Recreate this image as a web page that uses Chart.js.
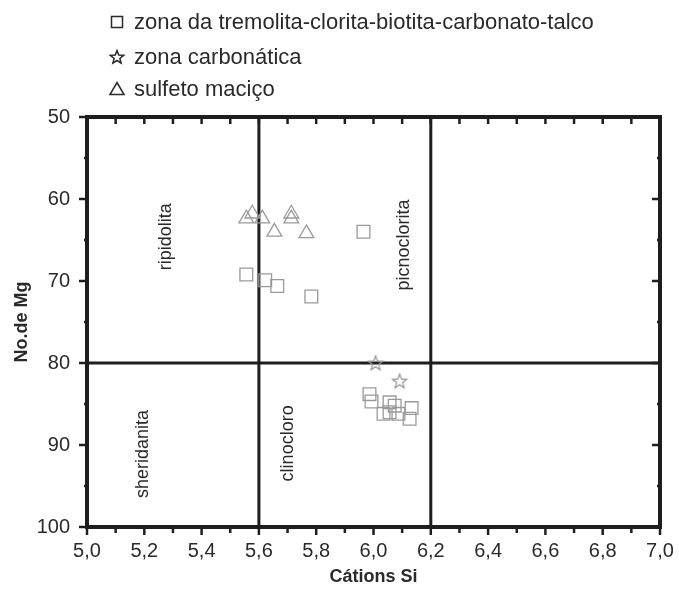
<!DOCTYPE html>
<html>
<head>
<meta charset="utf-8">
<script src="https://cdn.jsdelivr.net/npm/chart.js@4.4.0/dist/chart.umd.min.js"></script>
<style>
  html, body { margin: 0; padding: 0; background: #fff; }
</style>
</head>
<body>
<canvas id="chart" width="679" height="590"></canvas>
<script>
// values
var squareX = [5.965, 5.556, 5.622, 5.664, 5.783, 5.986, 5.993, 6.056, 6.074, 6.035, 6.056, 6.087, 6.133, 6.126];
var squareY = [64.0, 69.2, 69.9, 70.6, 71.9, 83.8, 84.7, 84.8, 85.2, 86.2, 86.0, 86.2, 85.5, 86.8];
var starX = [6.007, 6.091];
var starY = [80.0, 82.2];
var triX = [5.556, 5.577, 5.612, 5.654, 5.713, 5.713, 5.766];
var triY = [62.4, 61.8, 62.4, 64.0, 61.8, 62.4, 64.2];

var seriesNames = ["zona da tremolita-clorita-biotita-carbonato-talco", "zona carbonática", "sulfeto maciço"];
var seriesShapes = ["rect", "star", "triangle"];

// field boundaries
var boundX = [5.6, 6.2];
var boundY = [80];

var regionNames = ["ripidolita", "picnoclorita", "sheridanita", "clinocloro"];
var regionX = [5.276, 6.105, 5.196, 5.70];
var regionY = [64.6, 65.6, 91.1, 89.8];

var FONT = '"Liberation Sans", Arial, sans-serif';
var pointGray = "#9a9a9a";

function toPoints(xs, ys) {
  var pts = [];
  for (var i = 0; i < xs.length; i++) pts.push({x: xs[i], y: ys[i]});
  return pts;
}

function starPath(ctx, cx, cy, outer, inner) {
  ctx.beginPath();
  for (var i = 0; i < 10; i++) {
    var r = (i % 2 === 0) ? outer : inner;
    var a = -Math.PI / 2 + i * Math.PI / 5;
    var px = cx + r * Math.cos(a), py = cy + r * Math.sin(a);
    if (i === 0) ctx.moveTo(px, py); else ctx.lineTo(px, py);
  }
  ctx.closePath();
}

// star marker as an image, chart.js "star" is an asterisk
var starImg = document.createElement("canvas");
starImg.width = 18; starImg.height = 18;
(function() {
  var c = starImg.getContext("2d");
  c.strokeStyle = pointGray;
  c.lineWidth = 1.3;
  starPath(c, 9, 9.6, 7.5, 3.2);
  c.stroke();
})();

function drawShape(ctx, shape, x, y) {
  ctx.beginPath();
  if (shape === "rect") {
    ctx.rect(x - 5.5, y - 5.5, 11, 11);
  } else if (shape === "triangle") {
    ctx.moveTo(x, y - 6.5);
    ctx.lineTo(x + 7, y + 5.5);
    ctx.lineTo(x - 7, y + 5.5);
    ctx.closePath();
  } else {
    starPath(ctx, x, y + 0.5, 7, 3);
  }
  ctx.stroke();
}

var framePlugin = {
  id: "frame",
  beforeDatasetsDraw: function(chart) {
    var ctx = chart.ctx, a = chart.chartArea;
    var xs = chart.scales.x, ys = chart.scales.y;
    ctx.save();
    ctx.strokeStyle = "#1e1e1e";
    ctx.lineWidth = 3;
    boundX.forEach(function(v) {
      var px = xs.getPixelForValue(v);
      ctx.beginPath(); ctx.moveTo(px, a.top); ctx.lineTo(px, a.bottom); ctx.stroke();
    });
    boundY.forEach(function(v) {
      var py = ys.getPixelForValue(v);
      ctx.beginPath(); ctx.moveTo(a.left, py); ctx.lineTo(a.right, py); ctx.stroke();
    });

    // field names
    ctx.fillStyle = "#2a2a2a";
    ctx.font = "18px " + FONT;
    ctx.textAlign = "center";
    ctx.textBaseline = "middle";
    for (var i = 0; i < regionNames.length; i++) {
      ctx.save();
      ctx.translate(xs.getPixelForValue(regionX[i]), ys.getPixelForValue(regionY[i]));
      ctx.rotate(-Math.PI / 2);
      ctx.fillText(regionNames[i], 0, 0);
      ctx.restore();
    }
    ctx.restore();
  },
  afterDraw: function(chart) {
    var ctx = chart.ctx, a = chart.chartArea;
    var xs = chart.scales.x, ys = chart.scales.y;
    ctx.save();
    ctx.strokeStyle = "#1e1e1e";
    ctx.lineWidth = 4;
    ctx.strokeRect(a.left, a.top, a.right - a.left, a.bottom - a.top);

    // tick marks
    ctx.lineWidth = 2.5;
    for (var k = 0; k <= 20; k++) {
      var px = xs.getPixelForValue(5 + k * 0.1);
      var len = (k % 2 === 0) ? 8 : 6;
      ctx.beginPath(); ctx.moveTo(px, a.bottom); ctx.lineTo(px, a.bottom + len); ctx.stroke();
      if (k > 0 && k < 20) {
        ctx.beginPath(); ctx.moveTo(px, a.top); ctx.lineTo(px, a.top + 7); ctx.stroke();
      }
    }
    for (var m = 0; m <= 10; m++) {
      var py = ys.getPixelForValue(50 + m * 5);
      var major = (m % 2 === 0);
      ctx.beginPath(); ctx.moveTo(a.left, py); ctx.lineTo(a.left - (major ? 8 : 3), py); ctx.stroke();
      if (m > 0 && m < 10) {
        ctx.beginPath(); ctx.moveTo(a.right, py); ctx.lineTo(a.right - (major ? 8 : 3), py); ctx.stroke();
      }
    }

    // legend
    ctx.font = "22px " + FONT;
    ctx.textAlign = "left";
    ctx.textBaseline = "middle";
    ctx.fillStyle = "#2a2a2a";
    ctx.strokeStyle = "#2a2a2a";
    ctx.lineWidth = 1.5;
    var rowY = [22, 57, 89];
    for (var i = 0; i < seriesNames.length; i++) {
      drawShape(ctx, seriesShapes[i], 117, rowY[i]);
      ctx.fillText(seriesNames[i], 134, rowY[i] + 1);
    }
    ctx.restore();
  }
};

var ctx = document.getElementById("chart");
var chart = new Chart(ctx, {
  type: "scatter",
  data: {
    datasets: [
      {
        label: seriesNames[0],
        data: toPoints(squareX, squareY),
        pointStyle: "rect",
        pointRadius: 9,
        borderColor: pointGray,
        backgroundColor: "rgba(0,0,0,0)",
        borderWidth: 1.3
      },
      {
        label: seriesNames[1],
        data: toPoints(starX, starY),
        pointStyle: starImg,
        pointRadius: 9
      },
      {
        label: seriesNames[2],
        data: toPoints(triX, triY),
        pointStyle: "triangle",
        pointRadius: 8.5,
        borderColor: pointGray,
        backgroundColor: "rgba(0,0,0,0)",
        borderWidth: 1.3
      }
    ]
  },
  options: {
    responsive: false,
    animation: false,
    layout: { padding: { top: 117, right: 19, left: 0, bottom: 0 } },
    plugins: {
      legend: { display: false },
      tooltip: { enabled: false }
    },
    scales: {
      x: {
        type: "linear",
        min: 5, max: 7,
        grid: { display: false },
        border: { display: false },
        afterFit: function(s) { s.height = 63; s.paddingRight = 0; s.paddingLeft = 0; },
        ticks: {
          stepSize: 0.2,
          autoSkip: false,
          maxRotation: 0,
          padding: 4,
          color: "#2a2a2a",
          font: { family: FONT, size: 20 },
          callback: function(v) { return v.toFixed(1).replace(".", ","); }
        },
        title: {
          display: true,
          text: "Cátions Si",
          color: "#2a2a2a",
          font: { family: FONT, size: 18, weight: "bold" },
          padding: { top: 2, bottom: 2 }
        }
      },
      y: {
        type: "linear",
        reverse: true,
        min: 50, max: 100,
        grid: { display: false },
        border: { display: false },
        afterFit: function(s) { s.width = 87; },
        ticks: {
          stepSize: 10,
          padding: 9,
          color: "#2a2a2a",
          font: { family: FONT, size: 20 }
        },
        title: {
          display: true,
          text: "No.de Mg",
          color: "#2a2a2a",
          font: { family: FONT, size: 18, weight: "bold" },
          padding: { top: 11, bottom: 0 }
        }
      }
    }
  },
  plugins: [framePlugin]
});
</script>
</body>
</html>
